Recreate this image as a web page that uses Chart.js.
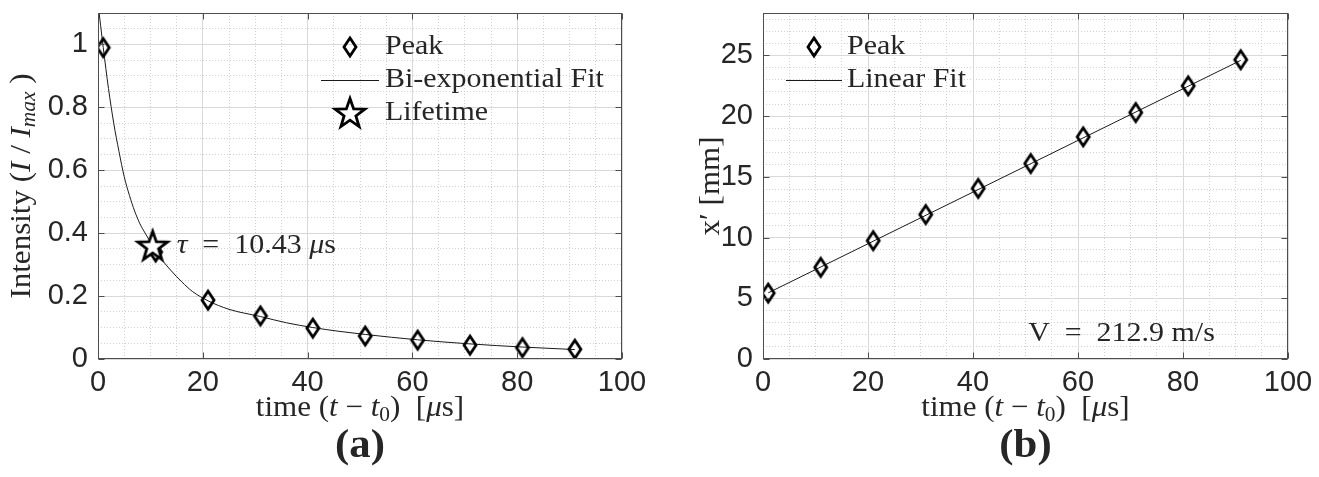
<!DOCTYPE html>
<html>
<head>
<meta charset="utf-8">
<script src="https://cdn.jsdelivr.net/npm/chart.js@4"></script>
<style>
  html, body { margin: 0; padding: 0; background: #fff; }
  #wrap { position: relative; width: 1319px; height: 477px; overflow: hidden; }
  .panel { position: absolute; top: 0; }
</style>
</head>
<body>
<div id="wrap">
  <div class="panel" style="left:0"><canvas id="chartA" width="660" height="477"></canvas></div>
  <div class="panel" style="left:660px"><canvas id="chartB" width="659" height="477"></canvas></div>
</div>
<script>
// ---- data ----
const timeTicks = [0, 20, 40, 60, 80, 100];
const intensityTicks = [0, 0.2, 0.4, 0.6, 0.8, 1];
const positionTicks = [0, 5, 10, 15, 20, 25];

// (a) peak intensity decay
const peakTime = [1, 11, 21, 31, 41, 51, 61, 71, 81, 91];
const peakIntensity = [0.99, 0.34, 0.187, 0.137, 0.098, 0.073, 0.060, 0.044, 0.036, 0.031];
// bi-exponential fit curve, sampled off the plot
const fitTime = [0, 0.5, 1, 2, 3, 4, 5, 6, 7, 8, 9, 10.43, 12, 14, 16, 18, 21, 25, 31, 36, 41, 46, 51, 61, 71, 81, 91];
const fitIntensity = [1.13, 1.06, 0.99, 0.86, 0.75, 0.66, 0.58, 0.52, 0.47, 0.43, 0.40, 0.36, 0.32, 0.28, 0.245, 0.215, 0.185, 0.158, 0.135, 0.115, 0.100, 0.088, 0.078, 0.061, 0.048, 0.038, 0.030];
const lifetimeTime = [10.43];
const lifetimeIntensity = [0.36];

// (b) peak position
const peakPosition = [5.43, 7.55, 9.75, 11.9, 14.05, 16.1, 18.3, 20.3, 22.5, 24.65];
const linearFitTime = [1, 91];
const linearFitPosition = [5.45, 24.6];

// ---- styles ----
const SERIF = "'Liberation Serif', 'Times New Roman', serif";
const SANS = "'Liberation Sans', Arial, sans-serif";
const INK = '#262626';
const AXIS = '#4d4d4d';
const STRETCH = 1.07; // LaTeX fonts run a bit wider than Times

function pts(xs, ys) { return xs.map((x, i) => ({ x: x, y: ys[i] })); }

function diamondMarker() {
  const c = document.createElement('canvas');
  c.width = 20; c.height = 26;
  const g = c.getContext('2d');
  g.strokeStyle = '#000';
  g.lineWidth = 2.8;
  g.beginPath();
  g.moveTo(10, 4); g.lineTo(16, 13); g.lineTo(10, 22); g.lineTo(4, 13);
  g.closePath();
  g.stroke();
  return c;
}

function starMarker() {
  const c = document.createElement('canvas');
  c.width = 38; c.height = 38;
  const g = c.getContext('2d');
  g.beginPath();
  for (let k = 0; k < 10; k++) {
    const r = k % 2 ? 6.2 : 15.5;
    const a = -Math.PI / 2 + k * Math.PI / 5;
    const px = 19 + r * Math.cos(a), py = 20 + r * Math.sin(a);
    if (k) g.lineTo(px, py); else g.moveTo(px, py);
  }
  g.closePath();
  g.fillStyle = '#fff';
  g.fill();
  g.lineWidth = 2.8;
  g.strokeStyle = '#000';
  g.stroke();
  return c;
}

const DIAMOND = diamondMarker();
const STAR = starMarker();

// rich text: parts are [text, style] with style containing 'it', 'sub', 'bold'
function partFont(st, size) {
  const s = st.includes('sub') ? Math.round(size * 0.7) : size;
  return (st.includes('it') ? 'italic ' : '') + (st.includes('bold') ? 'bold ' : '') + s + 'px ' + SERIF;
}
function drawRich(ctx, parts, x, y, size, align, angle) {
  ctx.save();
  ctx.translate(x, y);
  if (angle) ctx.rotate(angle);
  ctx.scale(STRETCH, 1);
  let w = 0;
  parts.forEach(p => { ctx.font = partFont(p[1], size); w += ctx.measureText(p[0]).width; });
  let cx = align === 'left' ? 0 : -w / 2;
  ctx.fillStyle = INK;
  ctx.textAlign = 'left';
  ctx.textBaseline = 'middle';
  parts.forEach(p => {
    ctx.font = partFont(p[1], size);
    ctx.fillText(p[0], cx, p[1].includes('sub') ? size * 0.25 : 0);
    cx += ctx.measureText(p[0]).width;
  });
  ctx.restore();
}

const timeTitle = [['time (', ''], ['t', 'it'], [' \u2212 ', ''], ['t', 'it'], ['0', 'sub'], [')  [', ''], ['\u03bc', 'it'], ['s]', '']];

function axis(min, max, minor, majors, size, horiz) {
  const major = majors[1] - majors[0];
  const isMajor = v => Math.abs(v / major - Math.round(v / major)) < 1e-6;
  return {
    type: 'linear',
    min: min,
    max: max,
    afterFit: s => {
      if (horiz) { s.height = size; s.paddingLeft = 0; s.paddingRight = 0; }
      else { s.width = size; s.paddingTop = 0; s.paddingBottom = 0; }
    },
    grid: {
      drawTicks: false,
      lineWidth: 1,
      color: c => (c.tick && isMajor(c.tick.value)) ? '#d9d9d9' : '#d0d0d0'
    },
    border: {
      display: false,
      dash: c => (c.tick && !isMajor(c.tick.value)) ? [1, 2] : []
    },
    ticks: {
      stepSize: minor,
      autoSkip: false,
      includeBounds: false,
      maxRotation: 0,
      padding: horiz ? 7 : 10,
      color: INK,
      font: { family: SANS, size: 29 },
      callback: v => isMajor(v) ? String(+v.toFixed(2)) : ''
    }
  };
}

// frame, inner tick marks, legend, titles and notes
function decorations(cfg) {
  return {
    id: 'decor',
    afterDatasetsDraw(chart) {
      const { ctx, chartArea: a, scales: { x, y } } = chart;
      const L = Math.round(a.left) + 0.5, R = Math.round(a.right) - 0.5;
      const T = Math.round(a.top) + 0.5, B = Math.round(a.bottom) - 0.5;
      ctx.save();
      ctx.strokeStyle = AXIS;
      ctx.lineWidth = 1;
      ctx.strokeRect(L, T, R - L, B - T);
      ctx.beginPath();
      cfg.xTicks.forEach(v => {
        const px = Math.round(x.getPixelForValue(v)) + 0.5;
        ctx.moveTo(px, B); ctx.lineTo(px, B - 6);
        ctx.moveTo(px, T); ctx.lineTo(px, T + 6);
      });
      cfg.yTicks.forEach(v => {
        const py = Math.round(y.getPixelForValue(v)) + 0.5;
        ctx.moveTo(L, py); ctx.lineTo(L + 6, py);
        ctx.moveTo(R, py); ctx.lineTo(R - 6, py);
      });
      ctx.stroke();

      // legend without box
      const lg = cfg.legend;
      lg.items.forEach((it, i) => {
        const ds = chart.data.datasets[it.ds];
        const cx = a.left + lg.x, cy = a.top + lg.y + i * lg.dy;
        if (it.kind === 'line') {
          ctx.strokeStyle = ds.borderColor;
          ctx.lineWidth = ds.borderWidth;
          ctx.beginPath();
          ctx.moveTo(cx - lg.half, cy + 0.5); ctx.lineTo(cx + lg.half, cy + 0.5);
          ctx.stroke();
        } else {
          const img = ds.pointStyle;
          ctx.drawImage(img, cx - img.width / 2, cy - img.height / 2);
        }
        drawRich(ctx, [[ds.label, '']], cx + lg.gap, cy, 28, 'left');
      });

      // notes placed at data coordinates
      cfg.notes.forEach(n => {
        drawRich(ctx, n.parts, x.getPixelForValue(n.x) + n.dx, y.getPixelForValue(n.y), 28, 'left');
      });

      // axis titles and panel tag
      const mid = (a.left + a.right) / 2;
      drawRich(ctx, timeTitle, mid, a.bottom + 49, 29, 'center');
      drawRich(ctx, [[cfg.tag, 'bold']], mid, a.bottom + 88, 40, 'center');
      drawRich(ctx, cfg.yTitle, a.left + cfg.yTitleDx, (a.top + a.bottom) / 2, 29, 'center', -Math.PI / 2);
      ctx.restore();
    }
  };
}

function makeChart(id, datasets, sc, decor) {
  return new Chart(document.getElementById(id), {
    type: 'scatter',
    data: { datasets: datasets },
    options: {
      responsive: false,
      animation: false,
      events: [],
      layout: { padding: sc.pad },
      plugins: { legend: { display: false }, tooltip: { enabled: false } },
      scales: {
        x: axis(0, 100, 5, timeTicks, 118, true),
        y: axis(0, sc.yMax, sc.yMinor, sc.yTicks, sc.yWidth, false)
      }
    },
    plugins: [decorations(decor)]
  });
}

// ---- (a) ----
makeChart('chartA', [
  {
    label: 'Bi-exponential Fit', data: pts(fitTime, fitIntensity), showLine: true,
    borderColor: '#1a1a1a', borderWidth: 1, pointRadius: 0, cubicInterpolationMode: 'monotone', order: 3
  },
  {
    label: 'Peak', data: pts(peakTime, peakIntensity), showLine: false,
    pointStyle: DIAMOND, pointRadius: 6, order: 2
  },
  {
    label: 'Lifetime', data: pts(lifetimeTime, lifetimeIntensity), showLine: false,
    pointStyle: STAR, pointRadius: 8, order: 1
  }
], { pad: { top: 13, right: 38, left: 0, bottom: 0 }, yMax: 1.1, yMinor: 0.05, yTicks: intensityTicks, yWidth: 98 }, {
  xTicks: timeTicks, yTicks: intensityTicks, tag: '(a)',
  yTitle: [['Intensity (', ''], ['I', 'it'], [' / ', ''], ['I', 'it'], ['max', 'it sub'], [' )', '']],
  yTitleDx: -76,
  legend: { x: 252, y: 34, dy: 33, gap: 35, half: 29, items: [{ ds: 1, kind: 'marker' }, { ds: 0, kind: 'line' }, { ds: 2, kind: 'marker' }] },
  notes: [{ x: lifetimeTime[0], y: lifetimeIntensity[0], dx: 24, parts: [['\u03c4', 'it'], ['  =  10.43 ', ''], ['\u03bc', 'it'], ['s', '']] }]
});

// ---- (b) ----
makeChart('chartB', [
  {
    label: 'Linear Fit', data: pts(linearFitTime, linearFitPosition), showLine: true,
    borderColor: '#1a1a1a', borderWidth: 1, pointRadius: 0, order: 2
  },
  {
    label: 'Peak', data: pts(peakTime, peakPosition), showLine: false,
    pointStyle: DIAMOND, pointRadius: 6, order: 1
  }
], { pad: { top: 13, right: 31, left: 0, bottom: 0 }, yMax: 28.5, yMinor: 1, yTicks: positionTicks, yWidth: 103 }, {
  xTicks: timeTicks, yTicks: positionTicks, tag: '(b)',
  yTitle: [['x\u2032 [mm]', '']],
  yTitleDx: -52,
  legend: { x: 51, y: 34, dy: 33, gap: 33, half: 28, items: [{ ds: 1, kind: 'marker' }, { ds: 0, kind: 'line' }] },
  notes: [{ x: 50.5, y: 2.1, dx: 0, parts: [['V  =  212.9 m/s', '']] }]
});
</script>
</body>
</html>
